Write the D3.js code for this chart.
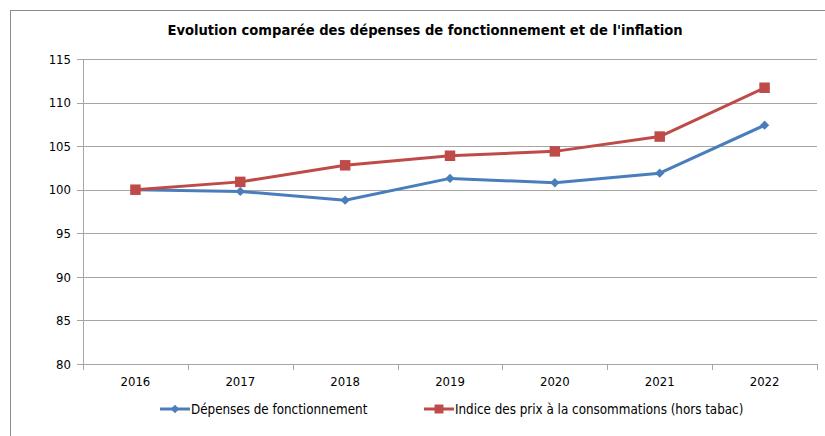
<!DOCTYPE html>
<html>
<head>
<meta charset="utf-8">
<script src="https://d3js.org/d3.v7.min.js"></script>
<style>
body { margin: 0; background: #fff; }
text { font-family: "Liberation Sans Narrow", "DejaVu Sans Condensed", "Liberation Sans", sans-serif; fill: #000; }
.grid line { stroke: #a6a6a6; stroke-width: 1; }
.axis path, .axis line { stroke: #a6a6a6; shape-rendering: crispEdges; }
</style>
</head>
<body>
<div id="chart"></div>
<script>
var years = ["2016", "2017", "2018", "2019", "2020", "2021", "2022"];
var depenses = [100, 99.8, 98.8, 101.3, 100.8, 101.9, 107.4];
var inflation = [100, 100.9, 102.8, 103.9, 104.4, 106.1, 111.7];
var yTicks = [80, 85, 90, 95, 100, 105, 110, 115];
var seriesNames = ["Dépenses de fonctionnement", "Indice des prix à la consommations (hors tabac)"];

var W = 825, H = 436;
var margin = {top: 59, right: 8, bottom: 72, left: 83},
    width = W - margin.left - margin.right,
    height = H - margin.top - margin.bottom;

var svg = d3.select("#chart").append("svg")
    .attr("width", W).attr("height", H);

// outer frame
svg.append("rect")
    .attr("x", 10.5).attr("y", 10.5)
    .attr("width", W + 20).attr("height", H + 20)
    .attr("fill", "none").attr("stroke", "#8c8c8c");

svg.append("text")
    .attr("x", 425).attr("y", 35)
    .attr("text-anchor", "middle")
    .style("font-size", "14.6px").style("font-weight", "bold")
    .text("Evolution comparée des dépenses de fonctionnement et de l'inflation");

var x = d3.scaleBand().domain(years).range([0, width]);
var y = d3.scaleLinear().domain([80, 115]).range([height, 0]);

var g = svg.append("g")
    .attr("transform", "translate(" + margin.left + "," + margin.top + ")");

g.append("g").attr("class", "grid")
  .selectAll("line").data(yTicks).enter().append("line")
    .attr("x1", 0).attr("x2", width)
    .attr("y1", function(d) { return Math.round(y(d)) + 0.5; })
    .attr("y2", function(d) { return Math.round(y(d)) + 0.5; });

var yAxis = g.append("g").attr("class", "axis")
    .call(d3.axisLeft(y).tickValues(yTicks).tickSize(6).tickPadding(6));
yAxis.select(".domain").attr("d", "M0.5," + height + "V0");
yAxis.selectAll("text").style("font-size", "13px");

// x axis: ticks at category boundaries
var xAxis = g.append("g").attr("class", "axis")
    .attr("transform", "translate(0," + height + ")")
    .call(d3.axisBottom(x).tickSize(0).tickPadding(13));
xAxis.select(".domain").attr("d", "M0," + 0.5 + "H" + width);
xAxis.selectAll("text").style("font-size", "13px");
xAxis.selectAll(".bound").data(years.concat(["end"])).enter().append("line")
    .attr("class", "bound")
    .attr("x1", function(d, i) { return Math.round(i * x.step()) + 0.5; })
    .attr("x2", function(d, i) { return Math.round(i * x.step()) + 0.5; })
    .attr("y1", 0).attr("y2", 6);

var cx = function(d, i) { return x(years[i]) + x.bandwidth() / 2; };
var line = d3.line().x(cx).y(function(d) { return y(d); });

var blue = "#4a7ebb", red = "#be4b48";

g.append("path").datum(depenses)
    .attr("d", line).attr("fill", "none")
    .attr("stroke", blue).attr("stroke-width", 3).attr("stroke-linejoin", "round");
g.append("path").datum(inflation)
    .attr("d", line).attr("fill", "none")
    .attr("stroke", red).attr("stroke-width", 3).attr("stroke-linejoin", "round");

var diamond = d3.symbol().type(d3.symbolDiamond2).size(55);
var square = d3.symbol().type(d3.symbolSquare).size(110);

g.selectAll(".m1").data(depenses).enter().append("path")
    .attr("d", diamond)
    .attr("transform", function(d, i) { return "translate(" + cx(d, i) + "," + y(d) + ")"; })
    .attr("fill", blue);
g.selectAll(".m2").data(inflation).enter().append("path")
    .attr("d", square)
    .attr("transform", function(d, i) { return "translate(" + cx(d, i) + "," + y(d) + ")"; })
    .attr("fill", red);

// legend
var legX = [160, 424];
var legend = svg.selectAll(".leg").data(seriesNames).enter().append("g")
    .attr("transform", function(d, i) { return "translate(" + legX[i] + ",409)"; });
legend.append("line")
    .attr("x1", 0).attr("x2", 30)
    .attr("stroke", function(d, i) { return i ? red : blue; })
    .attr("stroke-width", 3);
legend.append("path")
    .attr("d", function(d, i) { return i ? d3.symbol().type(d3.symbolSquare).size(80)() : d3.symbol().type(d3.symbolDiamond2).size(45)(); })
    .attr("transform", "translate(15,0)")
    .attr("fill", function(d, i) { return i ? red : blue; });
legend.append("text")
    .attr("x", 31).attr("y", 0).attr("dy", "0.35em")
    .style("font-size", "13.3px")
    .text(function(d) { return d; });
</script>
</body>
</html>
